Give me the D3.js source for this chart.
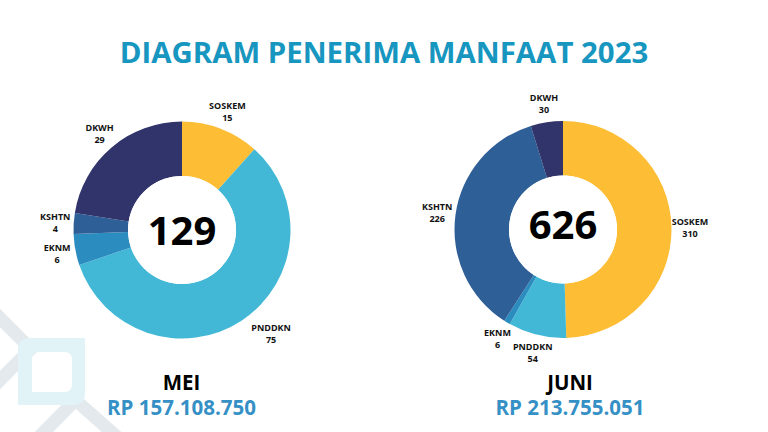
<!DOCTYPE html>
<html>
<head>
<meta charset="utf-8">
<script src="https://cdn.jsdelivr.net/npm/d3@7"></script>
<style>
  html, body { margin: 0; padding: 0; background: #ffffff; }
  svg { display: block; font-family: "Open Sans", "Noto Sans", sans-serif; }
</style>
</head>
<body>
<svg id="chart" width="768" height="432"></svg>
<script>
// ---- DATA ----
const titleText = "DIAGRAM PENERIMA MANFAAT 2023";
const categories = ["SOSKEM", "PNDDKN", "EKNM", "KSHTN", "DKWH"];
const meiValues = [15, 75, 6, 4, 29];
const juniValues = [310, 54, 6, 226, 30];
const monthNames = ["MEI", "JUNI"];
const monthTotals = ["129", "626"];
const monthAmounts = ["RP 157.108.750", "RP 213.755.051"];
const categoryColors = ["#fdbe36", "#42b8d6", "#2b8cbf", "#2e5f97", "#30346a"];

// ---- LAYOUT ----
const svg = d3.select("#chart");
const W = 768, H = 432;

// decorative background shapes (bottom-left)
const deco = svg.append("g");
deco.append("path")
  .attr("d", "M-12,306 L31,349 L-12,392")
  .attr("fill", "none").attr("stroke", "#e3e9ec").attr("stroke-width", 13)
  .attr("stroke-linejoin", "round");
deco.append("path")
  .attr("d", "M32,444 L75.5,400 L125,444")
  .attr("fill", "none").attr("stroke", "#e3e9ec").attr("stroke-width", 13)
  .attr("stroke-linejoin", "round");
(function () {
  const x0 = 18, y0 = 338, x1 = 85, y1 = 405, r = 12;
  const ix0 = 32, iy0 = 352, ix1 = 72, iy1 = 392, ir = 8;
  const outer = `M${x0},${y0 + r} Q${x0},${y0} ${x0 + r},${y0} L${x1},${y0} L${x1},${y1 - r} Q${x1},${y1} ${x1 - r},${y1} L${x0},${y1} Z`;
  const inner = `M${ix0},${iy0 + ir} Q${ix0},${iy0} ${ix0 + ir},${iy0} L${ix1 - ir},${iy0} Q${ix1},${iy0} ${ix1},${iy0 + ir} L${ix1},${iy1 - ir} Q${ix1},${iy1} ${ix1 - ir},${iy1} L${ix0},${iy1} Z`;
  deco.append("path").attr("d", outer + " " + inner)
    .attr("fill", "#e2f3f8").attr("fill-rule", "evenodd");
})();

// title
svg.append("text")
  .attr("x", W / 2).attr("y", 63)
  .attr("text-anchor", "middle")
  .attr("font-size", 29.4).attr("font-weight", 700)
  .attr("fill", "#1796bf")
  .text(titleText);

const color = d3.scaleOrdinal().domain(categories).range(categoryColors);

const charts = [
  { name: monthNames[0], total: monthTotals[0], amount: monthAmounts[0], values: meiValues,
    cx: 182, cy: 230, totalY: 245, textX: 181.5 },
  { name: monthNames[1], total: monthTotals[1], amount: monthAmounts[1], values: juniValues,
    cx: 563, cy: 229.5, totalY: 239, textX: 570 }
];

const outerR = 108.5, innerR = 54, labelR = 127;
const labelNudge = { "MEI-PNDDKN": [19, -2] };

const pie = d3.pie().sort(null).value(d => d.value).startAngle(0).endAngle(2 * Math.PI);
const arc = d3.arc().innerRadius(innerR).outerRadius(outerR);

charts.forEach(c => {
  const data = categories.map((k, i) => ({ key: k, value: c.values[i] }));
  const arcs = pie(data);
  const g = svg.append("g").attr("transform", `translate(${c.cx},${c.cy})`);

  g.selectAll("path.slice")
    .data(arcs)
    .join("path")
    .attr("class", "slice")
    .attr("d", arc)
    .attr("fill", d => color(d.data.key));

  g.append("circle").attr("r", innerR).attr("fill", "#ffffff");

  g.append("text")
    .attr("x", 0).attr("y", c.totalY - c.cy)
    .attr("text-anchor", "middle")
    .attr("font-size", 40).attr("font-weight", 700)
    .attr("fill", "#000000")
    .text(c.total);

  const lab = g.selectAll("g.lab")
    .data(arcs)
    .join("g")
    .attr("class", "lab")
    .attr("transform", d => {
      const a = (d.startAngle + d.endAngle) / 2;
      const n = labelNudge[c.name + "-" + d.data.key] || [0, 0];
      const x = labelR * Math.sin(a) + n[0];
      const y = -labelR * Math.cos(a) + n[1];
      return `translate(${x},${y})`;
    });
  lab.append("text")
    .attr("text-anchor", "middle").attr("y", -2.5)
    .attr("font-size", 9).attr("font-weight", 700).attr("fill", "#111111")
    .text(d => d.data.key);
  lab.append("text")
    .attr("text-anchor", "middle").attr("y", 9.5)
    .attr("font-size", 9).attr("font-weight", 700).attr("fill", "#111111")
    .text(d => d.data.value);

  svg.append("text")
    .attr("x", c.textX).attr("y", 390)
    .attr("text-anchor", "middle")
    .attr("font-size", 20.5).attr("font-weight", 700)
    .attr("fill", "#000000")
    .text(c.name);
  svg.append("text")
    .attr("x", c.textX).attr("y", 414.5)
    .attr("text-anchor", "middle")
    .attr("font-size", 20.5).attr("font-weight", 700)
    .attr("fill", "#3590c5")
    .text(c.amount);
});
</script>
</body>
</html>
